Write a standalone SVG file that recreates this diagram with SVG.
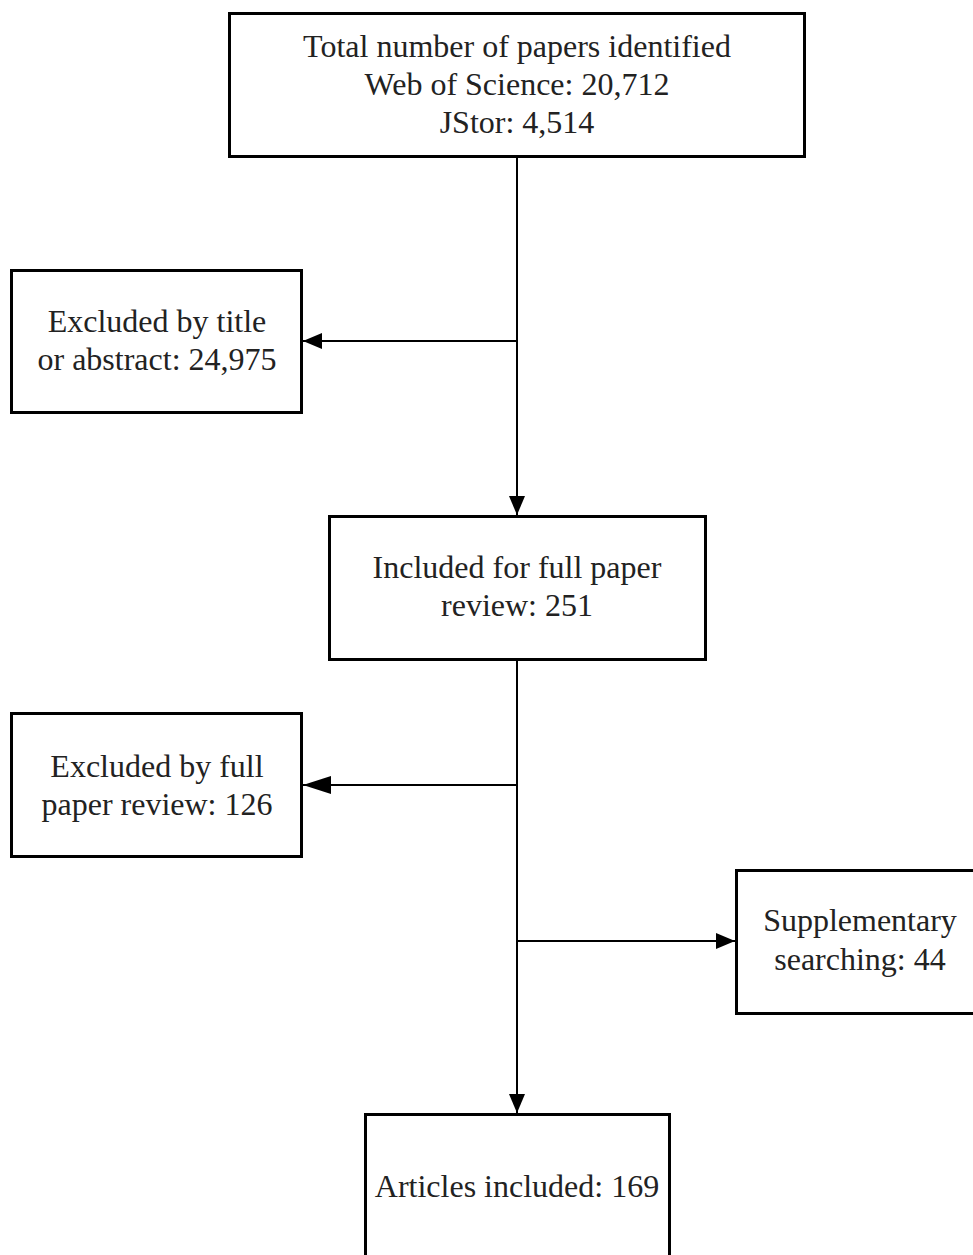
<svg xmlns="http://www.w3.org/2000/svg" width="973" height="1255" viewBox="0 0 973 1255">
<style>
.box{fill:#fff;stroke:#000;stroke-width:3}
.t{font-family:"Liberation Serif","Times New Roman",serif;font-size:32px;fill:#222;text-anchor:middle}
.c{stroke:#000;stroke-width:2;fill:none}
</style>
<defs>
<marker id="a" viewBox="0 0 19 16" refX="19" refY="8" markerWidth="19" markerHeight="16" markerUnits="userSpaceOnUse" orient="auto"><path d="M0,0 L19,8 L0,16 Z" fill="#000"/></marker>
<marker id="b" viewBox="0 0 28 18" refX="28" refY="9" markerWidth="28" markerHeight="18" markerUnits="userSpaceOnUse" orient="auto"><path d="M0,0 L28,9 L0,18 Z" fill="#000"/></marker>
</defs>
<rect width="973" height="1255" fill="#fff"/>
<g id="connectors">
<line class="c" x1="517" y1="157" x2="517" y2="515" marker-end="url(#a)"/>
<line class="c" x1="517" y1="341" x2="303" y2="341" marker-end="url(#a)"/>
<line class="c" x1="517" y1="660" x2="517" y2="1113" marker-end="url(#a)"/>
<line class="c" x1="517" y1="785" x2="303" y2="785" marker-end="url(#b)"/>
<line class="c" x1="517" y1="941" x2="735" y2="941" marker-end="url(#a)"/>
</g>
<g id="n1"><rect class="box" x="229.5" y="13.5" width="575" height="143"/>
<text class="t" x="517" y="57">Total number of papers identified</text>
<text class="t" x="517" y="95">Web of Science: 20,712</text>
<text class="t" x="517" y="133">JStor: 4,514</text></g>
<g id="n2"><rect class="box" x="11.5" y="270.5" width="290" height="142"/>
<text class="t" x="157" y="332">Excluded by title</text>
<text class="t" x="157" y="370">or abstract: 24,975</text></g>
<g id="n3"><rect class="box" x="329.5" y="516.5" width="376" height="143"/>
<text class="t" x="517" y="578">Included for full paper</text>
<text class="t" x="517" y="616">review: 251</text></g>
<g id="n4"><rect class="box" x="11.5" y="713.5" width="290" height="143"/>
<text class="t" x="157" y="777">Excluded by full</text>
<text class="t" x="157" y="815">paper review: 126</text></g>
<g id="n5"><rect class="box" x="736.5" y="870.5" width="250" height="143"/>
<text class="t" x="860" y="931">Supplementary</text>
<text class="t" x="860" y="970">searching: 44</text></g>
<g id="n6"><rect class="box" x="365.5" y="1114.5" width="304" height="150"/>
<text class="t" x="517" y="1197">Articles included: 169</text></g>
</svg>
